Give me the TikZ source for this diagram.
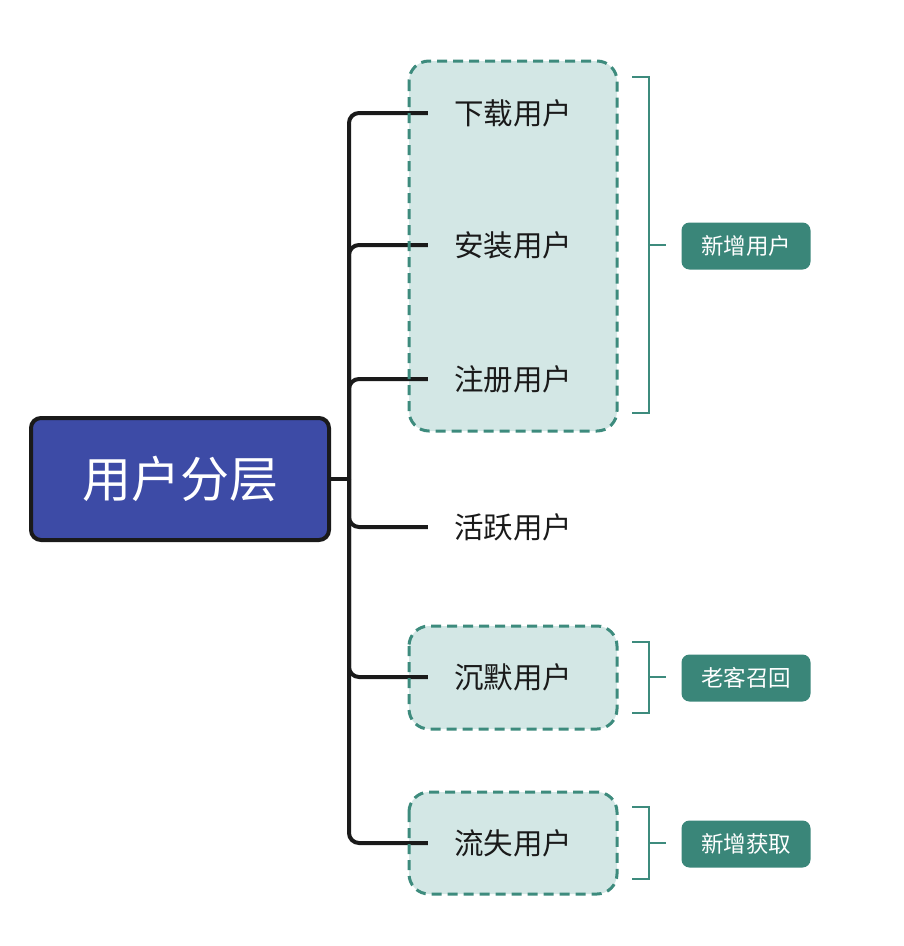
\documentclass[tikz,border=0pt]{standalone}
\usepackage{fontspec}
\setmainfont{Noto Sans CJK SC}
\definecolor{rootblue}{RGB}{61,75,166}
\definecolor{tealline}{RGB}{61,139,125}
\definecolor{tealfill}{RGB}{211,231,229}
\definecolor{labelfill}{RGB}{58,134,121}
\definecolor{inkdark}{RGB}{26,26,26}
\tikzset{
  rootbox/.style={draw=inkdark, line width=4pt, fill=rootblue, rounded corners=10pt,
    minimum width=298pt, minimum height=122pt, text=white, font=\fontsize{49}{53}\selectfont, inner sep=0pt},
  leaf/.style={text=inkdark, font=\fontsize{29.5}{33}\selectfont, inner xsep=26pt, inner ysep=4pt},
  groupbox/.style={draw=tealline, line width=3pt, dash pattern=on 10pt off 6pt, rounded corners=20pt},
  groupfill/.style={fill=tealfill, rounded corners=20pt},
  branch/.style={draw=inkdark, line width=4pt, rounded corners=10pt},
  bracketline/.style={draw=tealline, line width=2.8pt},
  tag/.style={fill=labelfill, rounded corners=8pt, text=white, font=\fontsize{22.5}{26}\selectfont,
    minimum width=129pt, minimum height=47pt, inner sep=0pt}
}
\begin{document}
\begin{tikzpicture}[x=1pt, y=-1pt]
\useasboundingbox (0,0) rectangle (904,946);
% group backgrounds
\fill[groupfill] (409,61) rectangle (617,431);
\fill[groupfill] (409,626) rectangle (617,729);
\fill[groupfill] (409,792) rectangle (617,894);
% root
\node[rootbox] (root) at (180,479) {用户分层};
\coordinate (hub) at (349,479);
% leaves
\node[leaf] (l1) at (513,113) {下载用户};
\node[leaf] (l2) at (513,245) {安装用户};
\node[leaf] (l3) at (513,379) {注册用户};
\node[leaf] (l4) at (513,527) {活跃用户};
\node[leaf] (l5) at (513,677) {沉默用户};
\node[leaf] (l6) at (513,843) {流失用户};
% connectors
\draw[branch] (root.east) -- (hub);
\foreach \n in {l1,l2,l3,l4,l5,l6}{
  \draw[branch] (hub) |- (\n.west);
}
% dashed borders
\draw[groupbox] (409,61) rectangle (617,431);
\draw[groupbox] (409,626) rectangle (617,729);
\draw[groupbox] (409,792) rectangle (617,894);
% tags
\node[tag] (t1) at (746,246) {新增用户};
\node[tag] (t2) at (746,678) {老客召回};
\node[tag] (t3) at (746,844) {新增获取};
% brackets
\coordinate (b1) at (666,245);
\coordinate (b2) at (666,677);
\coordinate (b3) at (666,843);
\draw[bracketline] (632,77) -- (649,77) -- (649,413) -- (632,413);
\draw[bracketline] (649,245) -- (b1);
\draw[bracketline] (632,642) -- (649,642) -- (649,713) -- (632,713);
\draw[bracketline] (649,677) -- (b2);
\draw[bracketline] (632,807) -- (649,807) -- (649,879) -- (632,879);
\draw[bracketline] (649,843) -- (b3);
\end{tikzpicture}
\end{document}
